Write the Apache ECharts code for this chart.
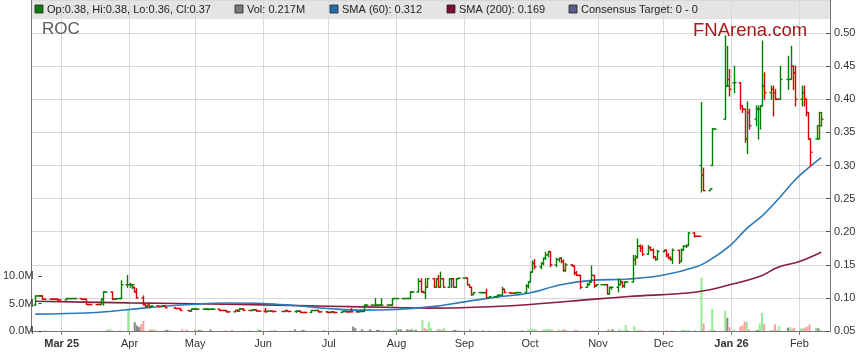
<!DOCTYPE html>
<html><head><meta charset="utf-8">
<script src="https://cdn.jsdelivr.net/npm/echarts@6/dist/echarts.min.js"></script>
<style>html,body{margin:0;padding:0;background:#fff;}#c{width:859px;height:363px;}</style>
</head><body><div id="c"></div>
<script>
// ---- data: [date, open, high, low, close, volume(M)] ----
const bars = [
["2025-02-17",.089,.103,.089,.103,.1],["2025-02-18",.103,.103,.103,.103,.05],["2025-02-19",.103,.103,.103,.103,0],["2025-02-20",.103,.103,.098,.098,0],["2025-02-21",.098,.098,.098,.098,0],
["2025-02-24",.098,.098,.098,.098,0],["2025-02-25",.098,.098,.098,.098,0],["2025-02-26",.098,.098,.098,.098,0],["2025-02-27",.098,.098,.097,.097,.05],["2025-02-28",.097,.097,.097,.097,0],
["2025-03-03",.097,.099,.097,.099,0],["2025-03-04",.099,.099,.099,.099,0],["2025-03-05",.099,.099,.099,.099,0],["2025-03-06",.099,.099,.099,.099,0],["2025-03-07",.099,.099,.099,.099,0],
["2025-03-10",.099,.099,.098,.098,0],["2025-03-11",.098,.098,.098,.098,0],["2025-03-12",.098,.098,.090,.090,0],["2025-03-13",.090,.090,.090,.090,0],["2025-03-14",.090,.090,.090,.090,0],
["2025-03-17",.090,.090,.090,.090,0],["2025-03-18",.090,.090,.090,.090,.1],["2025-03-19",.090,.098,.090,.098,.36],["2025-03-20",.098,.109,.089,.109,.2],["2025-03-21",.109,.109,.109,.109,.05],
["2025-03-24",.109,.109,.098,.098,.1],["2025-03-25",.098,.098,.098,.098,0],["2025-03-26",.098,.099,.098,.099,0],["2025-03-27",.099,.099,.099,.099,0],["2025-03-28",.099,.126,.099,.120,4.2],
["2025-03-31",.120,.134,.116,.120,1.6],["2025-04-01",.120,.122,.116,.120,1.0],["2025-04-02",.120,.120,.114,.120,.7],["2025-04-03",.116,.116,.109,.109,1.2],["2025-04-04",.109,.114,.100,.100,1.8],
["2025-04-07",.100,.103,.089,.090,.3],["2025-04-08",.090,.090,.086,.087,.2],["2025-04-09",.087,.089,.086,.089,.3],["2025-04-10",.089,.089,.086,.086,.1],["2025-04-11",.086,.088,.086,.088,0],
["2025-04-14",.088,.088,.087,.087,.2],["2025-04-15",.087,.087,.087,.087,.2],["2025-04-16",.087,.088,.087,.088,.1],["2025-04-17",.088,.088,.085,.085,.1],
["2025-04-22",.085,.085,.084,.084,.3],["2025-04-23",.084,.084,.084,.084,0],["2025-04-24",.084,.084,.081,.081,.3],
["2025-04-28",.081,.081,.080,.080,.3],["2025-04-29",.080,.083,.080,.083,.2],["2025-04-30",.083,.083,.083,.083,.2],["2025-05-01",.083,.083,.083,.083,.1],["2025-05-02",.083,.083,.083,.083,0],
["2025-05-05",.083,.083,.083,.083,.3],["2025-05-06",.083,.083,.083,.083,0],["2025-05-07",.083,.083,.082,.083,0],["2025-05-08",.083,.083,.083,.083,0],["2025-05-09",.083,.083,.083,.083,0],
["2025-05-12",.083,.083,.081,.081,.1],["2025-05-13",.081,.081,.081,.081,0],["2025-05-14",.081,.081,.081,.081,0],["2025-05-15",.081,.081,.079,.079,.2],["2025-05-16",.079,.079,.079,.079,0],
["2025-05-19",.079,.081,.079,.081,0],["2025-05-20",.081,.082,.080,.080,0],["2025-05-21",.080,.0835,.080,.0835,.1],["2025-05-22",.0835,.0835,.0835,.0835,0],["2025-05-23",.0835,.0835,.081,.081,.1],
["2025-05-26",.081,.081,.081,.081,0],["2025-05-27",.081,.082,.081,.082,.3],["2025-05-28",.082,.082,.082,.082,.2],["2025-05-29",.082,.082,.080,.080,0],["2025-05-30",.080,.080,.080,.080,0],
["2025-06-02",.080,.084,.078,.0795,.1],["2025-06-03",.0795,.080,.079,.080,.1],["2025-06-04",.080,.080,.080,.080,.1],["2025-06-05",.080,.080,.079,.0795,0],["2025-06-06",.0795,.0795,.0795,.0795,0],
["2025-06-10",.0795,.0795,.0795,.0795,0],["2025-06-11",.0795,.081,.0795,.081,.1],["2025-06-12",.081,.081,.0795,.0795,0],["2025-06-13",.0795,.0795,.0795,.0795,.3],
["2025-06-16",.0795,.080,.078,.080,.2],["2025-06-17",.080,.080,.080,.080,.2],["2025-06-18",.080,.080,.078,.078,.1],["2025-06-19",.078,.078,.078,.078,0],["2025-06-20",.078,.078,.078,.078,0],
["2025-06-23",.078,.081,.078,.081,0],["2025-06-24",.081,.081,.081,.081,0],["2025-06-25",.081,.081,.081,.081,0],["2025-06-26",.081,.081,.079,.079,.1],["2025-06-27",.079,.079,.079,.079,.1],
["2025-06-30",.079,.079,.078,.078,0],["2025-07-01",.078,.078,.078,.078,0],["2025-07-02",.078,.079,.078,.079,.1],["2025-07-03",.079,.079,.078,.078,.1],["2025-07-04",.078,.078,.078,.078,0],
["2025-07-07",.078,.0795,.078,.0795,0],["2025-07-08",.0795,.0795,.0795,.0795,0],["2025-07-09",.0795,.0795,.079,.079,0],["2025-07-10",.079,.079,.079,.079,.8],["2025-07-11",.079,.084,.079,.079,.5],
["2025-07-14",.079,.079,.079,.079,.3],["2025-07-15",.079,.0795,.079,.0795,.1],["2025-07-16",.0795,.0795,.0795,.0795,0],["2025-07-17",.0795,.089,.0795,.089,.2],["2025-07-18",.089,.089,.089,.089,.3],
["2025-07-21",.089,.089,.089,.089,.2],["2025-07-22",.089,.099,.089,.089,.2],["2025-07-23",.089,.089,.089,.089,0],["2025-07-24",.089,.089,.089,.089,.1],["2025-07-25",.089,.099,.089,.089,0],
["2025-07-28",.089,.089,.089,.089,0],["2025-07-29",.089,.089,.089,.089,.1],["2025-07-30",.089,.099,.089,.099,.3],["2025-07-31",.099,.099,.099,.099,.3],["2025-08-01",.099,.099,.099,.099,.3],
["2025-08-04",.099,.099,.099,.099,.3],["2025-08-05",.099,.099,.099,.099,.2],["2025-08-06",.099,.099,.099,.099,.3],["2025-08-07",.099,.109,.099,.109,.3],["2025-08-08",.109,.109,.109,.109,.2],
["2025-08-11",.109,.129,.109,.125,2.0],["2025-08-12",.125,.129,.109,.109,.5],["2025-08-13",.109,.110,.108,.108,.3],["2025-08-14",.108,.129,.099,.116,1.7],["2025-08-15",.116,.129,.116,.129,.5],
["2025-08-18",.129,.129,.116,.116,.3],["2025-08-19",.116,.129,.116,.129,.4],["2025-08-20",.129,.134,.116,.116,.2],["2025-08-21",.116,.139,.116,.129,.5],["2025-08-22",.129,.129,.116,.116,.1],
["2025-08-25",.116,.129,.116,.129,.2],["2025-08-26",.129,.129,.116,.129,.2],["2025-08-27",.129,.129,.116,.116,.1],["2025-08-28",.116,.129,.116,.129,.1],["2025-08-29",.129,.130,.129,.130,.1],
["2025-09-01",.130,.130,.130,.130,0],["2025-09-02",.130,.130,.120,.120,.3],["2025-09-03",.120,.120,.116,.116,0],["2025-09-04",.116,.116,.104,.105,.1],["2025-09-05",.105,.108,.105,.108,.1],
["2025-09-08",.108,.108,.108,.108,.1],["2025-09-09",.108,.108,.108,.108,0],["2025-09-10",.108,.108,.108,.108,0],["2025-09-11",.108,.113,.100,.100,.1],["2025-09-12",.100,.102,.100,.102,0],
["2025-09-15",.102,.102,.102,.102,0],["2025-09-16",.102,.104,.101,.104,.1],["2025-09-17",.104,.104,.104,.104,0],["2025-09-18",.104,.116,.104,.113,.1],["2025-09-19",.113,.113,.108,.108,0],
["2025-09-22",.108,.108,.107,.107,0],["2025-09-23",.107,.107,.107,.107,0],["2025-09-24",.107,.108,.107,.108,0],["2025-09-25",.108,.108,.108,.108,0],["2025-09-26",.108,.108,.108,.108,.1],
["2025-09-29",.108,.120,.108,.118,.3],["2025-09-30",.118,.124,.115,.124,.4],["2025-10-01",.124,.139,.124,.139,.4],["2025-10-02",.139,.156,.139,.152,.3],["2025-10-03",.152,.158,.144,.147,.1],
["2025-10-06",.147,.153,.144,.152,.3],["2025-10-07",.152,.160,.150,.160,.3],["2025-10-08",.160,.169,.158,.165,.4],["2025-10-09",.165,.170,.162,.170,.3],["2025-10-10",.170,.170,.147,.150,.2],
["2025-10-13",.150,.160,.147,.158,.3],["2025-10-14",.158,.160,.155,.160,.1],["2025-10-15",.160,.160,.153,.155,.2],["2025-10-16",.155,.157,.140,.142,.3],["2025-10-17",.142,.152,.140,.150,.1],
["2025-10-20",.150,.150,.148,.148,.1],["2025-10-21",.148,.148,.135,.138,.2],["2025-10-22",.138,.140,.134,.134,.1],["2025-10-23",.134,.134,.134,.134,0],["2025-10-24",.134,.134,.114,.116,.1],
["2025-10-27",.116,.122,.116,.120,.1],["2025-10-28",.120,.124,.120,.124,0],["2025-10-29",.125,.148,.124,.134,.1],["2025-10-30",.134,.134,.116,.118,.1],["2025-10-31",.118,.120,.118,.120,.1],
["2025-11-03",.120,.120,.120,.120,0],["2025-11-04",.120,.120,.120,.120,0],["2025-11-05",.120,.120,.106,.106,.3],["2025-11-06",.106,.116,.106,.116,.2],["2025-11-07",.116,.116,.113,.116,.3],
["2025-11-10",.116,.129,.109,.120,.3],["2025-11-11",.120,.128,.120,.124,.1],["2025-11-12",.124,.124,.116,.118,.1],["2025-11-13",.118,.124,.116,.124,1.1],["2025-11-14",.124,.124,.124,.124,.1],
["2025-11-17",.124,.164,.124,.158,.9],["2025-11-18",.158,.164,.150,.162,.1],["2025-11-19",.162,.189,.160,.178,.2],["2025-11-20",.178,.180,.170,.175,.1],["2025-11-21",.175,.179,.164,.166,.1],
["2025-11-24",.166,.179,.166,.176,.1],["2025-11-25",.176,.177,.172,.172,.1],["2025-11-26",.172,.174,.160,.162,.1],["2025-11-27",.162,.162,.157,.158,0],["2025-11-28",.158,.172,.158,.170,.1],
["2025-12-01",.170,.172,.170,.172,0],["2025-12-02",.172,.172,.162,.164,.1],["2025-12-03",.164,.167,.159,.160,0],["2025-12-04",.160,.162,.157,.158,.1],["2025-12-05",.158,.174,.152,.172,.1],
["2025-12-08",.172,.172,.152,.155,0],["2025-12-09",.155,.174,.155,.172,.2],["2025-12-10",.172,.179,.172,.178,.2],["2025-12-11",.178,.180,.176,.179,.1],["2025-12-12",.179,.199,.179,.198,.2],
["2025-12-15",.198,.199,.192,.193,.1],["2025-12-16",.193,.193,.193,.193,0],["2025-12-17",.193,.193,.193,.193,0],["2025-12-18",.300,.395,.260,.285,9.7],["2025-12-19",.285,.296,.262,.262,1.4],
["2025-12-22",.262,.265,.262,.265,.2],["2025-12-23",.300,.356,.300,.355,4.0],["2025-12-24",.355,.355,.355,.355,.1],
["2025-12-29",.370,.496,.370,.420,3.7],["2025-12-30",.420,.480,.420,.420,2.4],["2025-12-31",.430,.445,.405,.415,.7],["2026-01-02",.425,.450,.410,.425,.3],
["2026-01-05",.425,.425,.385,.390,.8],["2026-01-06",.390,.390,.380,.385,1.0],["2026-01-07",.385,.385,.335,.340,1.7],["2026-01-08",.340,.396,.318,.380,1.7],["2026-01-09",.380,.385,.355,.360,.3],
["2026-01-12",.370,.390,.360,.385,.2],["2026-01-13",.385,.390,.340,.385,.2],["2026-01-14",.385,.390,.355,.390,1.4],["2026-01-15",.390,.488,.390,.420,3.3],["2026-01-16",.420,.440,.400,.410,1.3],
["2026-01-19",.410,.420,.400,.415,.2],["2026-01-20",.415,.420,.375,.410,.2],["2026-01-21",.410,.415,.400,.400,1.2],["2026-01-22",.400,.400,.400,.400,.1],["2026-01-23",.400,.450,.400,.430,.9],
["2026-01-27",.430,.465,.415,.430,.6],["2026-01-28",.430,.480,.430,.450,.7],["2026-01-29",.450,.450,.415,.440,.4],["2026-01-30",.440,.450,.390,.400,.6],
["2026-02-02",.400,.420,.390,.410,.5],["2026-02-03",.410,.420,.390,.400,.4],["2026-02-04",.400,.400,.375,.380,.6],["2026-02-05",.380,.380,.340,.340,.8],["2026-02-06",.340,.340,.300,.320,1.2],
["2026-02-09",.340,.360,.340,.360,.6],["2026-02-10",.340,.380,.340,.360,.5],["2026-02-11",.380,.380,.360,.370,.217]
];
const sma60 = [
["2025-02-17",.0755],["2025-03-14",.0775],["2025-04-01",.0825],["2025-04-15",.087],["2025-05-01",.0905],["2025-05-15",.0922],
["2025-06-01",.0915],["2025-06-15",.0885],["2025-07-01",.0840],["2025-07-15",.0815],["2025-08-01",.0825],["2025-08-16",.0864],
["2025-09-01",.094],["2025-09-15",.101],["2025-09-30",.107],["2025-10-15",.120],["2025-10-29",.1265],["2025-11-15",.1285],
["2025-12-01",.1345],["2025-12-16",.147],["2025-12-22",.157],["2026-01-01",.181],["2026-01-08",.205],["2026-01-15",.224],
["2026-01-22",.248],["2026-01-30",.278],["2026-02-05",.296],["2026-02-11",.312]
];
const sma200 = [
["2025-02-17",.095],["2025-04-01",.0925],["2025-05-15",.0905],["2025-07-01",.0875],["2025-08-01",.0855],["2025-08-16",.0845],
["2025-09-15",.087],["2025-10-01",.090],["2025-11-01",.0985],["2025-11-15",.102],["2025-12-16",.109],["2026-01-01",.1205],
["2026-01-15",.134],["2026-01-22",.146],["2026-02-01",.155],["2026-02-11",.169]
];
const priceTicks = [0.05,0.10,0.15,0.20,0.25,0.30,0.35,0.40,0.45,0.50];
const volumeTicks = [0,5,10];           // millions
const monthNames = ["Jan","Feb","Mar","Apr","May","Jun","Jul","Aug","Sep","Oct","Nov","Dec"];
const axisStart = "2025-02-15", axisEnd = "2026-02-15";

// ---- derived ----
const UP = "#008000", DOWN = "#dd0000";
const VUP = "#94ec94", VDOWN = "#ff9c9c", VFLAT = "#858585";
let prevC = null, prevDir = 1;
const ohlcData = [], volData = [];
bars.forEach(b => {
  let dir = 0;
  if (prevC === null) dir = 1; else if (b[4] > prevC) dir = 1; else if (b[4] < prevC) dir = -1;
  const pdir = dir === 0 ? prevDir : dir;
  ohlcData.push([b[0], b[1], b[2], b[3], b[4], pdir]);
  if (b[5] > 0) volData.push({value: [b[0], b[5] * 1e6], itemStyle: {color: dir > 0 ? VUP : dir < 0 ? VDOWN : VFLAT}});
  prevC = b[4]; prevDir = pdir;
});
const last = bars[bars.length - 1];
const f2 = v => v.toFixed(2);
const lastSma60 = sma60[sma60.length - 1][1], lastSma200 = sma200[sma200.length - 1][1];

const chart = echarts.init(document.getElementById('c'), null, {renderer: 'canvas'});
const minT = +echarts.time.parse(axisStart);
const plotTopPx = 331 - (0.55 - 0.05) * 668; // keep 0.55 as axis top
const FONT = '11px "Liberation Sans", Arial, sans-serif';
const option = {
  animation: false,
  backgroundColor: '#ffffff',
  textStyle: {fontFamily: '"Liberation Sans", Arial, sans-serif'},
  grid: [
    {left: 31, right: 29, top: plotTopPx, bottom: 32},
    {left: 31, right: 29, top: 276, bottom: 32}
  ],
  xAxis: [
    {type: 'time', gridIndex: 0, min: axisStart, max: axisEnd,
     minInterval: 28 * 864e5, maxInterval: 31 * 864e5, splitNumber: 12,
     axisLine: {lineStyle: {color: '#777', width: 1}},
     axisTick: {show: true, length: 4, lineStyle: {color: '#777'}},
     splitLine: {show: true, lineStyle: {color: '#d8d8d8', width: 1}},
     axisLabel: {fontSize: 11, color: '#333', margin: 7, hideOverlap: false,
       formatter: function (v) {
         const d = new Date(v); const m = d.getMonth();
         const name = monthNames[m];
         if (m === 0 || v - minT < 31 * 864e5) return '{b|' + name + ' ' + String(d.getFullYear()).slice(2) + '}';
         return name;
       },
       rich: {b: {fontWeight: 'bold', fontSize: 11, color: '#333'}}}},
    {type: 'time', gridIndex: 1, min: axisStart, max: axisEnd, show: false}
  ],
  yAxis: [
    {type: 'value', gridIndex: 0, position: 'right', min: priceTicks[0], max: 0.55, interval: 0.05,
     axisLine: {show: true, lineStyle: {color: '#777'}},
     axisTick: {show: true, inside: true, length: 4, lineStyle: {color: '#555'}},
     splitLine: {show: true, lineStyle: {color: '#d8d8d8', width: 1}},
     axisLabel: {fontSize: 11, color: '#333', margin: 4, showMaxLabel: false,
       formatter: v => priceTicks.some(t => Math.abs(t - v) < 1e-9) ? f2(v) : ''}},
    {type: 'value', gridIndex: 0, position: 'left', min: 0, max: 1,
     axisLine: {show: true, lineStyle: {color: '#777'}}, axisTick: {show: false},
     axisLabel: {show: false}, splitLine: {show: false}},
    {type: 'value', gridIndex: 1, position: 'left', min: 0, max: volumeTicks[2] * 1e6, interval: 5e6,
     axisLine: {show: false}, axisTick: {show: true, inside: true, length: 3, lineStyle: {color: '#333'}},
     splitLine: {show: false},
     axisLabel: {fontSize: 11, color: '#333', margin: 5, formatter: v => (v / 1e6).toFixed(1) + 'M'}}
  ],
  series: [
    {type: 'bar', xAxisIndex: 1, yAxisIndex: 2, data: volData, barWidth: 2, z: 1},
    {type: 'line', xAxisIndex: 0, yAxisIndex: 0, data: sma200, smooth: 0.4, showSymbol: false,
     lineStyle: {color: '#8a1c40', width: 1.6}, z: 2},
    {type: 'line', xAxisIndex: 0, yAxisIndex: 0, data: sma60, smooth: 0.4, showSymbol: false,
     lineStyle: {color: '#2a7ab8', width: 1.6}, z: 3},
    {type: 'custom', xAxisIndex: 0, yAxisIndex: 0, data: ohlcData, z: 4, clip: true,
     encode: {x: 0, y: [1, 2, 3, 4]},
     renderItem: function (params, api) {
       const t = api.value(0);
       const x = Math.round(api.coord([t, api.value(1)])[0]) + 0.5;
       const yO = api.coord([t, api.value(1)])[1];
       const yH = api.coord([t, api.value(2)])[1];
       const yL = api.coord([t, api.value(3)])[1];
       const yC = api.coord([t, api.value(4)])[1];
       const col = api.value(5) > 0 ? UP : DOWN;
       const st = {stroke: col, lineWidth: 1.4};
       return {type: 'group', children: [
         {type: 'line', shape: {x1: x, y1: yH - 0.5, x2: x, y2: yL + 0.5}, style: st},
         {type: 'line', shape: {x1: x - 2, y1: yO, x2: x, y2: yO}, style: st},
         {type: 'line', shape: {x1: x, y1: yC, x2: x + 2, y2: yC}, style: st}
       ]};
     }}
  ],
  graphic: [
    {type: 'rect', z: -1, shape: {x: 31, y: 0, width: 799, height: 19}, style: {fill: '#e4e4e4'}},
    {type: 'rect', z: 10, shape: {x: 35, y: 5, width: 8, height: 8}, style: {fill: '#0a7d0a', stroke: '#222', lineWidth: 0.8}},
    {type: 'text', z: 10, style: {x: 47, y: 9.5, text: 'Op:' + f2(last[1]) + ', Hi:' + f2(last[2]) + ', Lo:' + f2(last[3]) + ', Cl:' + f2(last[4]), font: FONT, fill: '#222', verticalAlign: 'middle'}},
    {type: 'rect', z: 10, shape: {x: 235, y: 5, width: 8, height: 8}, style: {fill: '#7a7a7a', stroke: '#222', lineWidth: 0.8}},
    {type: 'text', z: 10, style: {x: 247, y: 9.5, text: 'Vol: ' + last[5].toFixed(3) + 'M', font: FONT, fill: '#222', verticalAlign: 'middle'}},
    {type: 'rect', z: 10, shape: {x: 330, y: 5, width: 8, height: 8}, style: {fill: '#1f6eb0', stroke: '#222', lineWidth: 0.8}},
    {type: 'text', z: 10, style: {x: 342, y: 9.5, text: 'SMA (60): ' + lastSma60.toFixed(3), font: FONT, fill: '#222', verticalAlign: 'middle'}},
    {type: 'rect', z: 10, shape: {x: 447, y: 5, width: 8, height: 8}, style: {fill: '#7a1030', stroke: '#222', lineWidth: 0.8}},
    {type: 'text', z: 10, style: {x: 459, y: 9.5, text: 'SMA (200): ' + lastSma200.toFixed(3), font: FONT, fill: '#222', verticalAlign: 'middle'}},
    {type: 'rect', z: 10, shape: {x: 569, y: 5, width: 8, height: 8}, style: {fill: '#5c5c8c', stroke: '#222', lineWidth: 0.8}},
    {type: 'text', z: 10, style: {x: 581, y: 9.5, text: 'Consensus Target: 0 - 0', font: FONT, fill: '#222', verticalAlign: 'middle'}},
    {type: 'text', z: 10, style: {x: 42, y: 38, text: 'ROC', font: '17px "Liberation Sans", Arial, sans-serif', fill: '#5a5a5a', verticalAlign: 'bottom'}},
    {type: 'text', z: 10, style: {x: 693, y: 40, text: 'FNArena.com', font: '18.5px "Liberation Sans", Arial, sans-serif', fill: '#a81818', verticalAlign: 'bottom'}}
  ]
};
chart.setOption(option);
</script></body></html>
